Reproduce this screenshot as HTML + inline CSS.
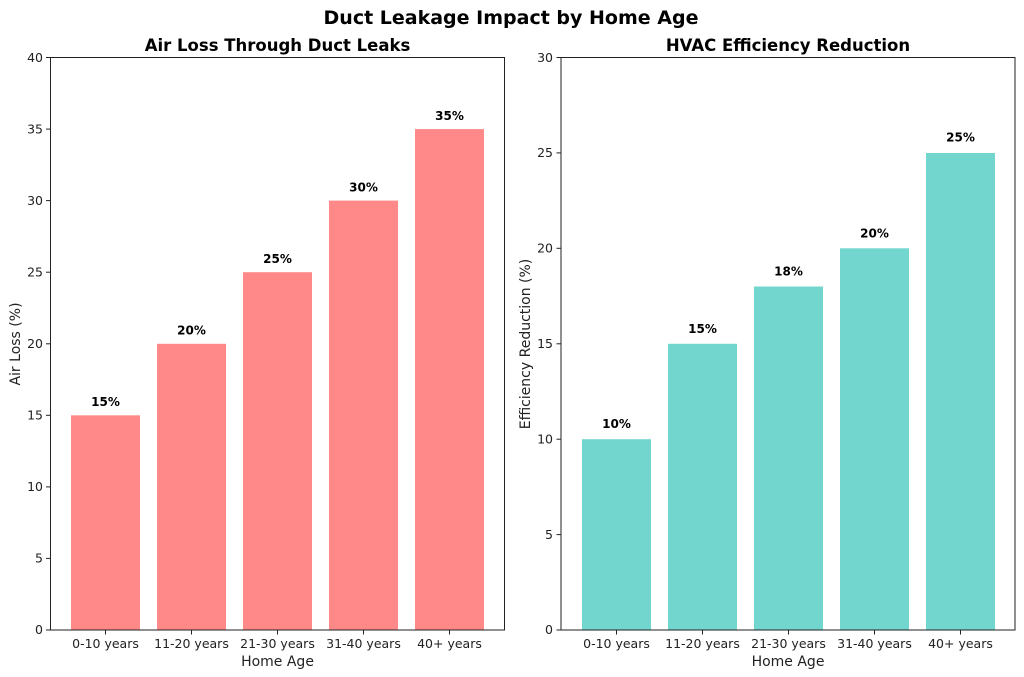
<!DOCTYPE html>
<html><head><meta charset="utf-8"><style>
html,body{margin:0;padding:0;background:#fff;}
svg{display:block;font-family:"DejaVu Sans","Liberation Sans",sans-serif;}
</style></head><body>
<svg width="1024" height="677" viewBox="0 0 1024 677">
<text x="511" y="24" text-anchor="middle" font-size="19" font-weight="bold">Duct Leakage Impact by Home Age</text>
<text x="277.5" y="51" text-anchor="middle" font-size="16.5" font-weight="bold">Air Loss Through Duct Leaks</text>
<text x="788" y="51" text-anchor="middle" font-size="16.5" font-weight="bold">HVAC Efficiency Reduction</text>

<g fill="#FF8888">
<rect x="71" y="415.3" width="69" height="214.7"/>
<rect x="157" y="343.8" width="69" height="286.2"/>
<rect x="243" y="272.2" width="69" height="357.8"/>
<rect x="329" y="200.6" width="69" height="429.4"/>
<rect x="415" y="129.1" width="69" height="500.9"/>
</g>
<g font-size="12" font-weight="bold" text-anchor="middle">
<text x="105.5" y="406">15%</text>
<text x="191.5" y="334.5">20%</text>
<text x="277.5" y="263">25%</text>
<text x="363.5" y="191.5">30%</text>
<text x="449.5" y="120">35%</text>
</g>
<rect x="50.5" y="57.5" width="454" height="572.5" fill="none" stroke="#222" stroke-width="1"/>
<g stroke="#222" stroke-width="1">
<line x1="46" y1="630" x2="50.5" y2="630"/><line x1="46" y1="558.4" x2="50.5" y2="558.4"/>
<line x1="46" y1="486.9" x2="50.5" y2="486.9"/><line x1="46" y1="415.3" x2="50.5" y2="415.3"/>
<line x1="46" y1="343.8" x2="50.5" y2="343.8"/><line x1="46" y1="272.2" x2="50.5" y2="272.2"/>
<line x1="46" y1="200.6" x2="50.5" y2="200.6"/><line x1="46" y1="129.1" x2="50.5" y2="129.1"/>
<line x1="46" y1="57.5" x2="50.5" y2="57.5"/>
<line x1="105.5" y1="630" x2="105.5" y2="634.5"/><line x1="191.5" y1="630" x2="191.5" y2="634.5"/>
<line x1="277.5" y1="630" x2="277.5" y2="634.5"/><line x1="363.5" y1="630" x2="363.5" y2="634.5"/>
<line x1="449.5" y1="630" x2="449.5" y2="634.5"/>
</g>
<g font-size="12.5" text-anchor="end" fill="#222">
<text x="43" y="634">0</text><text x="43" y="562.5">5</text><text x="43" y="491">10</text>
<text x="43" y="419.5">15</text><text x="43" y="348">20</text><text x="43" y="276.5">25</text>
<text x="43" y="205">30</text><text x="43" y="133.5">35</text><text x="43" y="62">40</text>
</g>
<g font-size="12.5" text-anchor="middle" fill="#222">
<text x="105.5" y="648">0-10 years</text><text x="191.5" y="648">11-20 years</text>
<text x="277.5" y="648">21-30 years</text><text x="363.5" y="648">31-40 years</text>
<text x="449.5" y="648">40+ years</text>
</g>
<text x="277.5" y="666" text-anchor="middle" font-size="14" fill="#222">Home Age</text>
<text transform="translate(20,344) rotate(-90)" text-anchor="middle" font-size="14" fill="#222">Air Loss (%)</text>

<g fill="#72D6CE">
<rect x="582" y="439.2" width="69" height="190.8"/>
<rect x="668" y="343.8" width="69" height="286.2"/>
<rect x="754" y="286.5" width="69" height="343.5"/>
<rect x="840" y="248.3" width="69" height="381.7"/>
<rect x="926" y="153" width="69" height="477"/>
</g>
<g font-size="12" font-weight="bold" text-anchor="middle">
<text x="616.5" y="428">10%</text>
<text x="702.5" y="333">15%</text>
<text x="788.5" y="275.5">18%</text>
<text x="874.5" y="237.5">20%</text>
<text x="960.5" y="141.5">25%</text>
</g>
<rect x="561" y="57.5" width="454" height="572.5" fill="none" stroke="#222" stroke-width="1"/>
<g stroke="#222" stroke-width="1">
<line x1="556.5" y1="630" x2="561" y2="630"/><line x1="556.5" y1="534.6" x2="561" y2="534.6"/>
<line x1="556.5" y1="439.2" x2="561" y2="439.2"/><line x1="556.5" y1="343.8" x2="561" y2="343.8"/>
<line x1="556.5" y1="248.3" x2="561" y2="248.3"/><line x1="556.5" y1="152.9" x2="561" y2="152.9"/>
<line x1="556.5" y1="57.5" x2="561" y2="57.5"/>
<line x1="616.5" y1="630" x2="616.5" y2="634.5"/><line x1="702.5" y1="630" x2="702.5" y2="634.5"/>
<line x1="788.5" y1="630" x2="788.5" y2="634.5"/><line x1="874.5" y1="630" x2="874.5" y2="634.5"/>
<line x1="960.5" y1="630" x2="960.5" y2="634.5"/>
</g>
<g font-size="12.5" text-anchor="end" fill="#222">
<text x="553" y="634">0</text><text x="553" y="538.8">5</text><text x="553" y="443.4">10</text>
<text x="553" y="348">15</text><text x="553" y="252.5">20</text><text x="553" y="157">25</text>
<text x="553" y="62">30</text>
</g>
<g font-size="12.5" text-anchor="middle" fill="#222">
<text x="616.5" y="648">0-10 years</text><text x="702.5" y="648">11-20 years</text>
<text x="788.5" y="648">21-30 years</text><text x="874.5" y="648">31-40 years</text>
<text x="960.5" y="648">40+ years</text>
</g>
<text x="788" y="666" text-anchor="middle" font-size="14" fill="#222">Home Age</text>
<text transform="translate(530,344) rotate(-90)" text-anchor="middle" font-size="14" fill="#222">Efficiency Reduction (%)</text>
</svg>
</body></html>
